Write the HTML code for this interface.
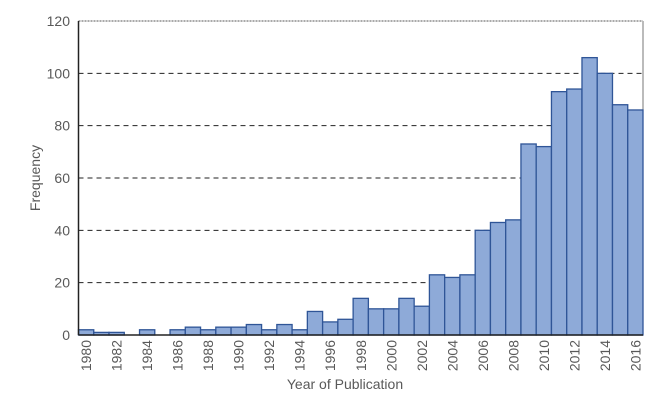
<!DOCTYPE html>
<html><head><meta charset="utf-8"><style>
body{margin:0;background:#fff}
svg text{font-family:"Liberation Sans",sans-serif;fill:#595959}
</style></head><body>
<svg id="chart" width="668" height="404" xmlns="http://www.w3.org/2000/svg"></svg>
<script>
const years=[1980,1981,1982,1983,1984,1985,1986,1987,1988,1989,1990,1991,1992,1993,1994,1995,1996,1997,1998,1999,2000,2001,2002,2003,2004,2005,2006,2007,2008,2009,2010,2011,2012,2013,2014,2015,2016];
const counts=[2,1,1,0,2,0,2,3,2,3,3,4,2,4,2,9,5,6,14,10,10,14,11,23,22,23,40,43,44,73,72,93,94,106,100,88,86];
const yTicks=[0,20,40,60,80,100,120];
const svg=document.getElementById('chart');
const NS='http://www.w3.org/2000/svg';
const L=78.5,R=643,T=21,B=335,yMax=120;
const bw=(R-L)/years.length;
const x=i=>L+i*bw;
const y=v=>B-(v/yMax)*(B-T);
function mk(t,a,p){const e=document.createElementNS(NS,t);for(const k in a)e.setAttribute(k,a[k]);(p||svg).appendChild(e);return e;}
yTicks.forEach(v=>{
  if(v>0){const g=mk('line',{x1:L,x2:R,y1:y(v),y2:y(v),stroke:v===120?'#555':'#222','stroke-dasharray':v===120?'2,1':'5,4','stroke-width':1});
  
  }
  const t=mk('text',{x:70,y:y(v)+5,'text-anchor':'end','font-size':14});
  t.textContent=v;
  
  
});
const rb=mk('line',{x1:R,x2:R,y1:T,y2:B,stroke:'#777','stroke-width':1});


counts.forEach((c,i)=>{
  if(c>0){const r=mk('rect',{x:x(i),y:y(c),width:bw,height:B-y(c),fill:'#8eaad8',stroke:'#2f5597','stroke-width':1.3});
  
  }
  if(years[i]%2===0){const cx=x(i)+bw/2+5;const t=mk('text',{x:cx,y:340,'text-anchor':'end','font-size':14,transform:'rotate(-90 '+cx+' 340)'});
  t.textContent=years[i];
  
  }
});
const ax=mk('line',{x1:L,x2:L,y1:T,y2:B,stroke:'#222','stroke-width':1.5});


const bx=mk('line',{x1:L,x2:R,y1:B,y2:B,stroke:'#222','stroke-width':1.5});


const xt=mk('text',{x:345,y:389,'text-anchor':'middle','font-size':14});
xt.textContent='Year of Publication';


const yt=mk('text',{x:40,y:178,'text-anchor':'middle','font-size':14,transform:'rotate(-90 40 178)'});
yt.textContent='Frequency';


</script>
</body></html>
